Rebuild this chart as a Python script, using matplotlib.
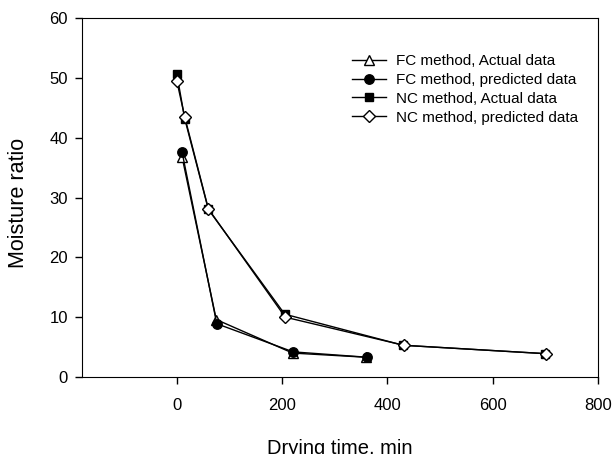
import matplotlib
matplotlib.use("Agg")
import matplotlib.pyplot as plt

plt.rcParams['font.family'] = ['Liberation Sans', 'DejaVu Sans']

fc_act_x = [10, 75, 220, 360]
fc_act_y = [36.8, 9.6, 4.0, 3.3]
fc_pred_x = [10, 76, 221, 362]
fc_pred_y = [37.6, 8.9, 4.2, 3.3]
nc_act_x = [0, 15, 60, 205, 430, 700]
nc_act_y = [50.7, 43.2, 28.0, 10.5, 5.3, 3.9]
nc_pred_x = [0, 15, 60, 206, 431, 701]
nc_pred_y = [49.5, 43.5, 28.1, 10.0, 5.3, 3.9]

fig = plt.figure(figsize=(6.13, 4.54), dpi=100)
ax = fig.add_axes([82/613, 1-377/454, (598-82)/613, (377-18)/454])

lw = 1.0
ax.plot(fc_act_x, fc_act_y, color='black', lw=lw, marker='^', ms=6.5,
        mfc='white', mec='black', mew=1.0, label='FC method, Actual data')
ax.plot(fc_pred_x, fc_pred_y, color='black', lw=lw, marker='o', ms=6.8,
        mfc='black', mec='black', label='FC method, predicted data')
ax.plot(nc_act_x, nc_act_y, color='black', lw=lw, marker='s', ms=5.8,
        mfc='black', mec='black', label='NC method, Actual data')
ax.plot(nc_pred_x, nc_pred_y, color='black', lw=lw, marker='D', ms=6.3,
        mfc='white', mec='black', mew=1.0, label='NC method, predicted data')

ax.set_xlim(-180, 800)
ax.set_ylim(0, 60)
ax.set_xticks([0, 200, 400, 600, 800])
ax.set_yticks([0, 10, 20, 30, 40, 50, 60])
ax.tick_params(direction='out', length=5, labelsize=12, width=1)
ax.tick_params(axis='x', pad=10)
ax.tick_params(axis='y', pad=5)

ax.set_xlabel('Drying time, min', fontsize=14.5, va='top')
ax.xaxis.set_label_coords(0.5, (377 - 439) / 359)
ax.set_ylabel('Moisture ratio', fontsize=15.5, va='center')
ax.yaxis.set_label_coords((19 - 82) / 516, (377 - 203) / 359)

leg = ax.legend(loc='upper left', bbox_to_anchor=((352 - 82) / 516, (377 - 54) / 359),
                frameon=False, fontsize=11.0, handlelength=2.2, handletextpad=0.65,
                labelspacing=0.32, borderpad=0, borderaxespad=0)

fig.savefig('out.png', dpi=100)
